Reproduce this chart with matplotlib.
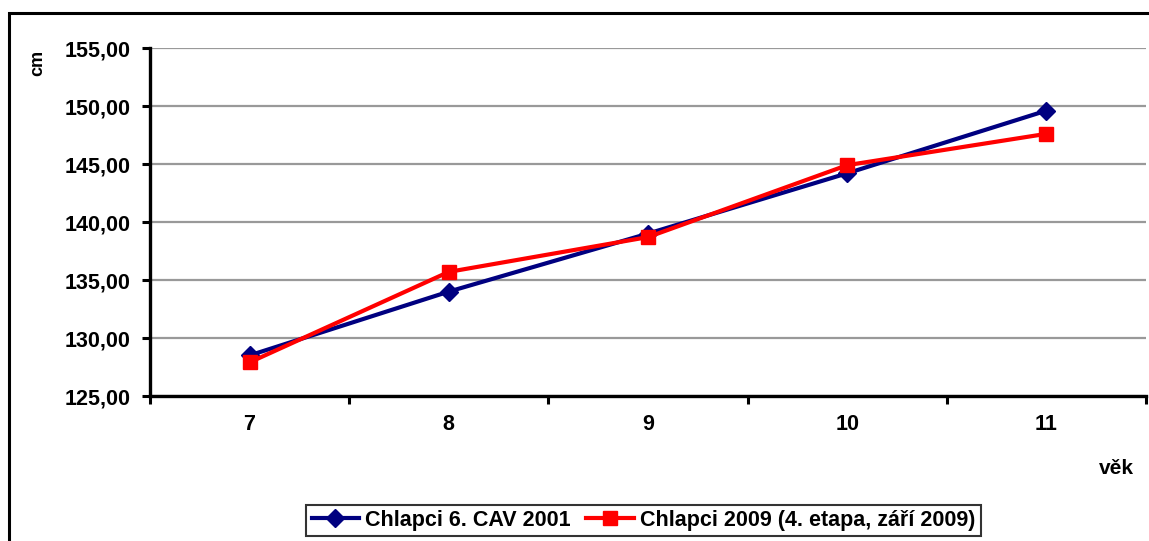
import matplotlib
matplotlib.use("Agg")
import matplotlib.pyplot as plt
from matplotlib.ticker import FixedLocator, FuncFormatter, NullFormatter
from matplotlib.patches import Rectangle

plt.rcParams['font.family'] = ['Liberation Sans', 'DejaVu Sans']
plt.rcParams['font.weight'] = 'bold'

# Age groups and mean body height (cm)
ages = ["7", "8", "9", "10", "11"]
cav_2001 = [128.5, 134.0, 139.0, 144.2, 149.6]
boys_2009 = [127.9, 135.7, 138.7, 144.9, 147.6]
series_labels = ["Chlapci 6. CAV 2001", "Chlapci 2009 (4. etapa, září 2009)"]
y_ticks = [125, 130, 135, 140, 145, 150, 155]

W, H = 1149, 541
fig = plt.figure(figsize=(W / 100, H / 100), dpi=100)
ax = fig.add_axes([150 / W, 1 - 396 / H, (1146 - 150) / W, (396 - 48) / H])

x = list(range(len(ages)))
l1, = ax.plot(x, cav_2001, color="#000080", lw=3, marker="D", ms=9,
              markeredgecolor="#000080", markerfacecolor="#000080", zorder=3)
l2, = ax.plot(x, boys_2009, color="#FF0000", lw=3, marker="s", ms=9.5,
              markeredgecolor="#FF0000", markerfacecolor="#FF0000", zorder=4)

ax.set_xlim(-0.5, len(ages) - 0.5)
ax.set_ylim(125, 155)

# y axis with comma decimal labels
ax.yaxis.set_major_locator(FixedLocator(y_ticks))
ax.yaxis.set_major_formatter(FuncFormatter(lambda v, p: f"{v:.2f}".replace(".", ",")))
ax.grid(axis="y", color="#999999", lw=1.6, zorder=0)
ax.set_axisbelow(True)

# category labels centred, tick marks between categories
ax.set_xticks(x)
ax.set_xticklabels(ages)
ax.set_xticks([i - 0.5 for i in range(len(ages) + 1)], minor=True)
ax.xaxis.set_minor_formatter(NullFormatter())
ax.tick_params(axis="x", which="major", length=0, pad=13, labelsize=15.5)
ax.tick_params(axis="x", which="minor", length=6, width=2.2, color="black")
ax.tick_params(axis="y", length=6, width=2.2, pad=8, labelsize=15.5)

for s in ["top", "right"]:
    ax.spines[s].set_visible(False)
for s in ["left", "bottom"]:
    ax.spines[s].set_linewidth(2.4)
    ax.spines[s].set_color("black")

fig.text(38 / W, 1 - 63 / H, "cm", rotation=90, ha="center", va="center",
         fontsize=13, fontweight="bold")
fig.text(1116 / W, 1 - 469 / H, "věk", ha="center", va="center",
         fontsize=15, fontweight="bold")

leg = fig.legend([l1, l2], series_labels, loc="center",
                 bbox_to_anchor=(643.5 / W, 1 - 520.5 / H), ncol=2,
                 frameon=True, fancybox=False, shadow=False,
                 prop={"size": 15.5, "weight": "bold"},
                 handlelength=2.2, handletextpad=0.3, columnspacing=0.7,
                 borderpad=0.25, borderaxespad=0)
leg.get_frame().set_edgecolor("black")
leg.get_frame().set_linewidth(1.5)

# outer chart border
fig.add_artist(Rectangle((9 / W, -0.1), 1.2, 1.1 - 13 / H, transform=fig.transFigure,
                         fill=False, edgecolor="black", lw=2.2, clip_on=False))

fig.savefig("out.png", dpi=100)
